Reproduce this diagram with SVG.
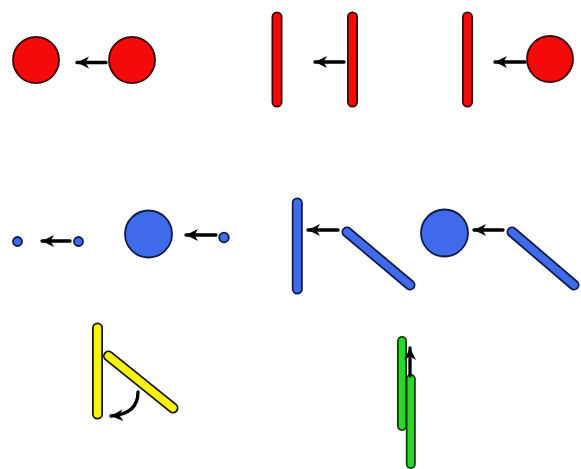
<svg xmlns="http://www.w3.org/2000/svg" width="581" height="469" viewBox="0 0 581 469">
  <defs>
    <marker id="head" markerUnits="userSpaceOnUse" markerWidth="14" markerHeight="14" refX="12" refY="7" orient="auto">
      <path d="M0,1 L12,7 L0,13 L3.5,7 Z" fill="#000"/>
    </marker>
  </defs>
  <style>
    line, path, circle { stroke-linecap: round; }
    .arrow { stroke: #000; stroke-width: 3.3; fill: none; marker-end: url(#head); }
    .red-o { stroke: #3a0606; stroke-width: 11; }
    .red-f { stroke: #f50a0a; stroke-width: 7.5; }
    .red-c { fill: #f50a0a; stroke: #3a0606; stroke-width: 1.8; }
    .blue-o { stroke: #0e1a4a; stroke-width: 11; }
    .blue-f { stroke: #3f6bea; stroke-width: 7.5; }
    .blue-c { fill: #3f6bea; stroke: #0e1a4a; stroke-width: 1.8; }
    .yel-o { stroke: #111; stroke-width: 11; }
    .yel-f { stroke: #f8f20e; stroke-width: 7.5; }
    .grn-o { stroke: #0d3a0d; stroke-width: 10; }
    .grn-f { stroke: #2bd62b; stroke-width: 6.5; }
  </style>
  <rect width="581" height="469" fill="#fff"/>

  <!-- top row: red -->
  <g id="red-circle-a"><circle class="red-c" cx="36" cy="60" r="23"/></g>
  <g id="red-circle-b"><circle class="red-c" cx="132" cy="60" r="23"/></g>
  <g id="red-bar-a"><line class="red-o" x1="277" y1="17" x2="277" y2="102"/><line class="red-f" x1="277" y1="17" x2="277" y2="102"/></g>
  <g id="red-bar-b"><line class="red-o" x1="352.5" y1="17" x2="352.5" y2="102"/><line class="red-f" x1="352.5" y1="17" x2="352.5" y2="102"/></g>
  <g id="red-bar-c"><line class="red-o" x1="467.5" y1="17" x2="467.5" y2="102"/><line class="red-f" x1="467.5" y1="17" x2="467.5" y2="102"/></g>
  <g id="red-circle-c"><circle class="red-c" cx="550" cy="59" r="23"/></g>

  <!-- middle row: blue -->
  <g id="blue-dot-a"><circle class="blue-c" cx="17.5" cy="241.5" r="4.5"/></g>
  <g id="blue-dot-b"><circle class="blue-c" cx="78.5" cy="241.5" r="4.5"/></g>
  <g id="blue-circle-a"><circle class="blue-c" cx="148.5" cy="234" r="23.5"/></g>
  <g id="blue-dot-c"><circle class="blue-c" cx="224" cy="237.5" r="4.8"/></g>
  <g id="blue-bar-a"><line class="blue-o" x1="297.3" y1="203" x2="297.3" y2="289"/><line class="blue-f" x1="297.3" y1="203" x2="297.3" y2="289"/></g>
  <g id="blue-bar-b"><line class="blue-o" x1="347" y1="232" x2="410" y2="285"/><line class="blue-f" x1="347" y1="232" x2="410" y2="285"/></g>
  <g id="blue-circle-b"><circle class="blue-c" cx="444.5" cy="233" r="23.5"/></g>
  <g id="blue-bar-c"><line class="blue-o" x1="512" y1="232" x2="574" y2="285"/><line class="blue-f" x1="512" y1="232" x2="574" y2="285"/></g>

  <!-- bottom row: yellow and green -->
  <g id="yellow-bar-a"><line class="yel-o" x1="97.5" y1="328" x2="97.5" y2="414"/><line class="yel-f" x1="97.5" y1="328" x2="97.5" y2="414"/></g>
  <g id="yellow-bar-b"><line class="yel-o" x1="108.5" y1="356" x2="173" y2="408"/><line class="yel-f" x1="108.5" y1="356" x2="173" y2="408"/></g>
  <g id="green-bar-a"><line class="grn-o" x1="402" y1="341" x2="402" y2="426"/><line class="grn-f" x1="402" y1="341" x2="402" y2="426"/></g>
  <g id="green-bar-b"><line class="grn-o" x1="410.8" y1="379" x2="410.8" y2="464"/><line class="grn-f" x1="410.8" y1="379" x2="410.8" y2="464"/></g>

  <g id="connectors">
    <line class="arrow" x1="106" y1="62.5" x2="77" y2="62.5"/>
    <line class="arrow" x1="344" y1="62" x2="315" y2="62"/>
    <line class="arrow" x1="525" y1="62" x2="495" y2="62"/>
    <line class="arrow" x1="70" y1="241" x2="42" y2="241"/>
    <line class="arrow" x1="216" y1="235" x2="186" y2="235"/>
    <line class="arrow" x1="338" y1="230" x2="308" y2="230"/>
    <line class="arrow" x1="503" y1="230" x2="474" y2="230"/>
    <path class="arrow" d="M138,392 Q138,414 111,416"/>
    <line class="arrow" x1="410" y1="376" x2="410" y2="348"/>
  </g>
</svg>
